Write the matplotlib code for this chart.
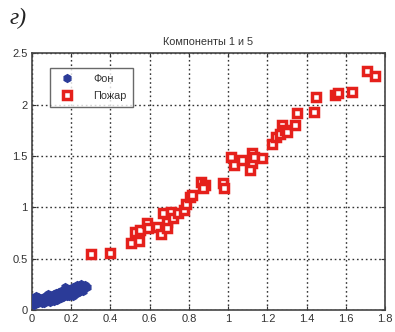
import matplotlib
matplotlib.use("Agg")
import matplotlib.pyplot as plt

# Background class (component 1, component 5)
bg_x = [0.00, 0.01, 0.01, 0.02, 0.02, 0.03, 0.03, 0.04, 0.04, 0.05, 0.05, 0.06,
        0.06, 0.07, 0.07, 0.08, 0.08, 0.09, 0.09, 0.10, 0.10, 0.11, 0.11, 0.12,
        0.12, 0.13, 0.13, 0.14, 0.14, 0.15, 0.15, 0.16, 0.16, 0.17, 0.17, 0.18,
        0.18, 0.19, 0.19, 0.20, 0.20, 0.21, 0.21, 0.22, 0.22, 0.23, 0.23, 0.24,
        0.24, 0.25, 0.25, 0.26, 0.27, 0.28, 0.02, 0.05, 0.09, 0.13, 0.17, 0.21,
        0.00, 0.01, 0.03, 0.06, 0.08, 0.11, 0.15, 0.19, 0.23, 0.26]
bg_y = [0.08, 0.06, 0.11, 0.09, 0.12, 0.07, 0.10, 0.11, 0.08, 0.12, 0.09, 0.10,
        0.13, 0.11, 0.14, 0.09, 0.12, 0.15, 0.11, 0.13, 0.10, 0.16, 0.12, 0.14,
        0.17, 0.13, 0.16, 0.18, 0.14, 0.15, 0.19, 0.13, 0.17, 0.16, 0.20, 0.14,
        0.18, 0.17, 0.21, 0.15, 0.19, 0.18, 0.22, 0.16, 0.20, 0.21, 0.24, 0.18,
        0.23, 0.20, 0.25, 0.22, 0.24, 0.22, 0.14, 0.07, 0.08, 0.10, 0.22, 0.14,
        0.12, 0.05, 0.13, 0.07, 0.16, 0.09, 0.12, 0.14, 0.17, 0.19]

# Fire class (component 1, component 5)
fire_x = [0.30, 0.40, 0.505, 0.545, 0.525, 0.55, 0.585, 0.59, 0.635, 0.66, 0.67,
          0.69, 0.69, 0.71, 0.72, 0.745, 0.775, 0.785, 0.805, 0.815, 0.86, 0.88,
          0.87, 0.975, 0.98, 1.015, 1.03, 1.07, 1.12, 1.12, 1.11, 1.13, 1.17,
          1.225, 1.245, 1.265, 1.275, 1.29, 1.30, 1.34, 1.35, 1.435, 1.45, 1.545,
          1.56, 1.63, 1.71, 1.75]
fire_y = [0.545, 0.555, 0.65, 0.67, 0.76, 0.78, 0.85, 0.80, 0.81, 0.74, 0.94,
          0.86, 0.80, 0.95, 0.90, 0.94, 0.97, 1.03, 1.10, 1.12, 1.25, 1.22,
          1.19, 1.24, 1.19, 1.49, 1.41, 1.46, 1.53, 1.43, 1.36, 1.49, 1.48,
          1.62, 1.68, 1.71, 1.80, 1.75, 1.73, 1.80, 1.92, 1.93, 2.07, 2.09,
          2.11, 2.12, 2.325, 2.28]

x_ticks = [0, 0.2, 0.4, 0.6, 0.8, 1, 1.2, 1.4, 1.6, 1.8]
x_labels = ["0", "0.2", "0.4", "0.6", "0.8", "1", "1.2", "1.4", "1.6", "1.8"]
y_ticks = [0, 0.5, 1, 1.5, 2, 2.5]
y_labels = ["0", "0.5", "1", "1.5", "2", "2.5"]

plt.rcParams['font.family'] = ['Liberation Sans', 'DejaVu Sans']

fig = plt.figure(figsize=(3.95, 3.32), dpi=100)
ax = fig.add_axes([0.081, 0.066, 0.894, 0.774])

ax.plot(bg_x, bg_y, linestyle='none', marker='h', markersize=5.6,
        color='#2b3b98', markeredgecolor='#2b3b98', label='Фон', zorder=3)
ax.plot(fire_x, fire_y, linestyle='none', marker='s', markersize=5.8,
        markerfacecolor='white', markeredgecolor='#e5201b', markeredgewidth=2.5,
        label='Пожар', zorder=4)

ax.set_xlim(0, 1.8)
ax.set_ylim(0, 2.5)
ax.set_xticks(x_ticks)
ax.set_xticklabels(x_labels)
ax.set_yticks(y_ticks)
ax.set_yticklabels(y_labels)
ax.tick_params(direction='in', length=3, labelsize=8, colors='#333333',
               top=True, right=True, pad=3)
ax.grid(True, linestyle=(0, (1.2, 2.0)), color='#333333', linewidth=1.0)
ax.set_axisbelow(True)
for s in ax.spines.values():
    s.set_color('#444444')
    s.set_linewidth(1.2)

ax.set_title('Компоненты 1 и 5', fontsize=7.8, color='#333333', pad=6)

leg = ax.legend(loc='upper left', fontsize=7.8, frameon=True, fancybox=False,
                edgecolor='#444444', borderpad=0.6, labelspacing=0.6,
                handletextpad=1.4, bbox_to_anchor=(0.035, 0.965))
leg.get_frame().set_linewidth(1.0)
for t in leg.get_texts():
    t.set_color('#333333')

fig.text(0.025, 0.945, 'г)', fontsize=17, family='Liberation Serif',
         style='italic', color='#222222', va='center', ha='left')

fig.savefig('out.png', dpi=100, facecolor='white')
